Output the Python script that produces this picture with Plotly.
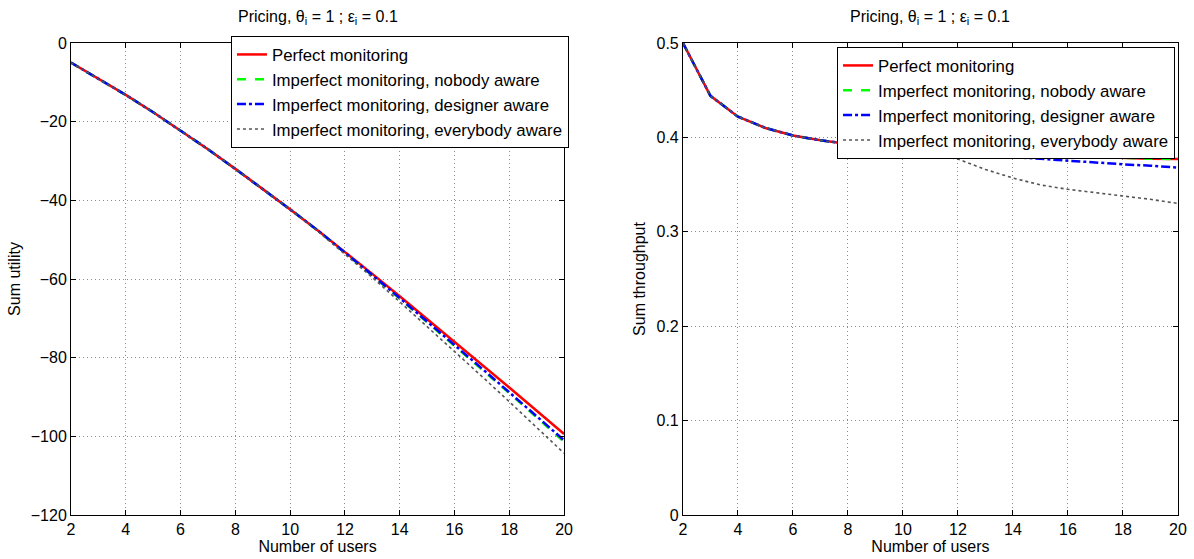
import plotly.graph_objects as go

users = list(range(2, 21))

# Left panel: Sum utility
util_perfect = [-5, -9, -13.2, -17.6, -22.2, -27.0, -32.0, -37.1, -42.3, -47.6, -53.1,
                -58.7, -64.4, -70.15, -75.95, -81.75, -87.6, -93.5, -99.4]
util_nobody = [-5, -9, -13.2, -17.6, -22.2, -27.0, -32.0, -37.1, -42.3, -47.6, -53.3,
               -59.1, -65.0, -70.95, -76.95, -82.95, -89.0, -95.2, -101.4]
util_designer = [-5, -9, -13.2, -17.6, -22.2, -27.0, -32.0, -37.1, -42.3, -47.6, -53.2,
                 -59.0, -64.85, -70.75, -76.75, -82.75, -88.8, -94.9, -101.0]
util_everybody = [-5, -9, -13.2, -17.6, -22.2, -27.0, -32.0, -37.1, -42.3, -47.8, -53.6,
                  -59.6, -65.8, -72.05, -78.45, -84.75, -91.2, -97.7, -104.3]

# Right panel: Sum throughput
thr_perfect = [0.5, 0.444, 0.422, 0.410, 0.402, 0.397, 0.393, 0.390, 0.3875, 0.386,
               0.384, 0.383, 0.382, 0.381, 0.380, 0.379, 0.378, 0.3775, 0.377]
thr_nobody = [0.5, 0.444, 0.422, 0.410, 0.402, 0.397, 0.393, 0.390, 0.3875, 0.386,
              0.384, 0.383, 0.382, 0.381, 0.380, 0.379, 0.378, 0.3775, 0.377]
thr_designer = [0.5, 0.444, 0.422, 0.410, 0.402, 0.397, 0.393, 0.390, 0.3872, 0.385,
                0.383, 0.381, 0.379, 0.377, 0.375, 0.373, 0.3715, 0.370, 0.368]
thr_everybody = [0.5, 0.444, 0.422, 0.410, 0.402, 0.397, 0.393, 0.390, 0.386, 0.382,
                 0.377, 0.366, 0.357, 0.3496, 0.345, 0.3415, 0.338, 0.3344, 0.330]

names = ["Perfect monitoring",
         "Imperfect monitoring, nobody aware",
         "Imperfect monitoring, designer aware",
         "Imperfect monitoring, everybody aware"]
colors = ["#ff0000", "#00ff00", "#0000ff", "#555555"]
dashes = ["solid", "dash", "dashdot", "dot"]
widths = [2.5, 2.5, 2.5, 1.6]

FONT = "Liberation Sans, Arial, Helvetica, sans-serif"
FS = 16

fig = go.Figure()

left_sets = [util_perfect, util_nobody, util_designer, util_everybody]
right_sets = [thr_perfect, thr_nobody, thr_designer, thr_everybody]

for i in range(4):
    fig.add_trace(go.Scatter(
        x=users, y=left_sets[i], mode="lines", name=names[i],
        line=dict(color=colors[i], dash=dashes[i], width=widths[i]),
        xaxis="x", yaxis="y", legend="legend", legendgroup="L%d" % i))
for i in range(4):
    fig.add_trace(go.Scatter(
        x=users, y=right_sets[i], mode="lines", name=names[i],
        line=dict(color=colors[i], dash=dashes[i], width=widths[i]),
        xaxis="x2", yaxis="y2", legend="legend2"))

axis_common = dict(
    showline=True, linecolor="black", linewidth=1, mirror="ticks",
    ticks="inside", ticklen=5, tickcolor="black",
    showgrid=True, gridcolor="#8c8c8c", griddash="1px,3px", gridwidth=1,
    zeroline=False, automargin=False,
    tickfont=dict(family=FONT, size=FS, color="black"),
)

fig.update_layout(
    width=1194, height=559,
    paper_bgcolor="white", plot_bgcolor="white",
    margin=dict(l=71, r=16, t=43, b=44),
    font=dict(family=FONT, size=FS, color="black"),
    xaxis=dict(domain=[0, 0.4454], range=[2, 20], dtick=2, anchor="y",
               title=dict(text="Number of users", standoff=0,
                          font=dict(family=FONT, size=FS)),
               **axis_common),
    yaxis=dict(domain=[0, 1], range=[-120, 0], dtick=20, anchor="x",
               title=dict(text="Sum utility", standoff=6,
                          font=dict(family=FONT, size=FS)),
               **axis_common),
    xaxis2=dict(domain=[0.5528, 1.0], range=[2, 20], dtick=2, anchor="y2",
                title=dict(text="Number of users", standoff=0,
                           font=dict(family=FONT, size=FS)),
                **axis_common),
    yaxis2=dict(domain=[0, 1], range=[0, 0.5], dtick=0.1, anchor="x2",
                title=dict(text="Sum throughput", standoff=6,
                           font=dict(family=FONT, size=FS)),
                **axis_common),
    legend=dict(x=0.1445, y=1.0148, xanchor="left", yanchor="top",
                bgcolor="white", bordercolor="black", borderwidth=1,
                font=dict(family=FONT, size=16.8), tracegroupgap=0,
                itemwidth=30),
    legend2=dict(x=0.692, y=0.9915, xanchor="left", yanchor="top",
                 bgcolor="white", bordercolor="black", borderwidth=1,
                 font=dict(family=FONT, size=16.8), tracegroupgap=0,
                 itemwidth=30),
    annotations=[
        dict(text="Pricing, θ<sub>i</sub> = 1 ; ε<sub>i</sub> = 0.1",
             x=0.2227, y=1.055, xref="paper", yref="paper",
             xanchor="center", yanchor="middle", showarrow=False,
             font=dict(family=FONT, size=FS)),
        dict(text="Pricing, θ<sub>i</sub> = 1 ; ε<sub>i</sub> = 0.1",
             x=0.7764, y=1.055, xref="paper", yref="paper",
             xanchor="center", yanchor="middle", showarrow=False,
             font=dict(family=FONT, size=FS)),
    ],
)

fig.write_html("out.html",
               config={"displayModeBar": False},
               post_script="document.body.style.margin='0';"
                           "document.body.style.overflow='hidden';")
